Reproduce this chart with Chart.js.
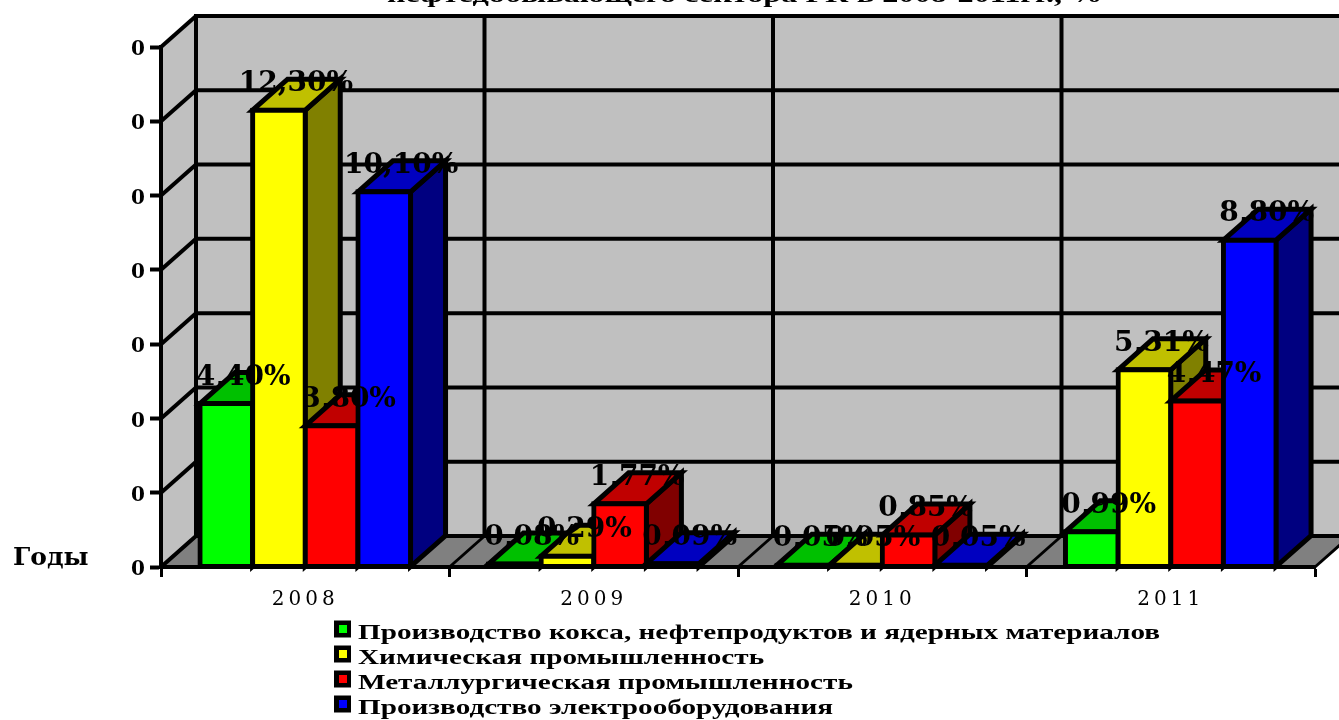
<!DOCTYPE html>
<html><head><meta charset="utf-8">
<style>html,body{margin:0;padding:0;background:#fff;overflow:hidden}canvas{display:block}</style>
<script src="https://cdn.jsdelivr.net/npm/chart.js@4/dist/chart.umd.min.js"></script>
</head><body>
<div style="width:1339px;height:720px"><canvas id="c"></canvas></div>
<script>
const categories = ['2008','2009','2010','2011'];
const cokeValues = [4.4, 0.08, 0.05, 0.95];
const chemValues = [12.3, 0.29, 0.05, 5.31];
const metalValues = [3.8, 1.7, 0.86, 4.47];
const electroValues = [10.1, 0.09, 0.05, 8.8];
const cokeLabels = ['4,40%','0,08%','0,05%','0,99%'];
const chemLabels = ['12,30%','0,29%','0,05%','5,31%'];
const metalLabels = ['3,80%','1,77%','0,85%','4,47%'];
const electroLabels = ['10,10%','0,09%','0,05%','8,80%'];
const seriesNames = ['Производство кокса, нефтепродуктов и ядерных материалов','Химическая промышленность','Металлургическая промышленность','Производство электрооборудования'];
const titleText = 'нефтедобывающего сектора РК в 2008-2011гг., %';
const axisNote = 'Годы';
const yTickLabel = '0';

const DX = 35, DY = -31, BW = 5;
const faces = [
  ['#00ff00','#00c000','#008000'],
  ['#ffff00','#c0c000','#808000'],
  ['#ff0000','#c00000','#800000'],
  ['#0000ff','#0000c0','#000080']
];
const valueSets = [cokeValues, chemValues, metalValues, electroValues];
const labelSets = [cokeLabels, chemLabels, metalLabels, electroLabels];
const SERIF = '"DejaVu Serif"';
const TIMES = '"Liberation Serif"';

function poly(ctx, pts, fill, stroke, lw){
  ctx.beginPath();
  pts.forEach((p,i)=> i?ctx.lineTo(p[0],p[1]):ctx.moveTo(p[0],p[1]));
  ctx.closePath();
  if(fill){ctx.fillStyle=fill;ctx.fill();}
  if(stroke){ctx.strokeStyle=stroke;ctx.lineWidth=lw;ctx.lineJoin='miter';ctx.stroke();}
}
function line(ctx,x1,y1,x2,y2,lw){
  ctx.beginPath();ctx.moveTo(x1,y1);ctx.lineTo(x2,y2);ctx.strokeStyle='#000';ctx.lineWidth=lw;ctx.stroke();
}
function stretched(ctx,text,x,y,font,sx){
  ctx.save();ctx.font=font;ctx.fillStyle='#000';ctx.textAlign='left';ctx.textBaseline='alphabetic';
  ctx.translate(x,y);ctx.scale(sx,1);ctx.fillText(text,0,0);ctx.restore();
}

const walls = {
  id:'walls',
  beforeDraw(chart){
    const {ctx,scales:{x,y},chartArea:a}=chart;
    ctx.save();
    ctx.letterSpacing='0px';
    const t=a.top,b=a.bottom,l=a.left,r=a.right;
    poly(ctx,[[l,b],[l,t],[l+DX,t+DY],[l+DX,b+DY]],'#c0c0c0');
    poly(ctx,[[l+DX,t+DY],[r+DX,t+DY],[r+DX,b+DY],[l+DX,b+DY]],'#c0c0c0');
    poly(ctx,[[l,b],[l+DX,b+DY],[r+DX,b+DY],[r,b]],'#808080');
    y.ticks.forEach(tk=>{
      const py=y.getPixelForValue(tk.value);
      line(ctx,l,py,l+DX,py+DY,4);
      line(ctx,l+DX-2,py+DY,r+DX,py+DY,4);
    });
    const step=x.width/categories.length;
    for(let i=0;i<=categories.length;i++){
      const px=x.getPixelForValue(0)-step/2+i*step;
      line(ctx,px,b,px+DX,b+DY,3);
      line(ctx,px+DX,t+DY,px+DX,b+DY,4);
    }
    ctx.restore();
    stretched(ctx,titleText,387,2,'bold 24px '+TIMES,1.345);
    stretched(ctx,axisNote,13,565,'bold 24px '+SERIF,1.04);
    ctx.letterSpacing='4px';
  },
  beforeDatasetDraw(){ return false; },
  afterDatasetsDraw(chart){
    const ctx=chart.ctx;
    ctx.letterSpacing='0px';
    seriesNames.forEach((n,i)=>{
      const f=faces[i], meta=chart.getDatasetMeta(i);
      ctx.save();
      meta.data.forEach(bar=>{
        const p=bar.getProps(['x','y','width','base'],true);
        const L=p.x-p.width/2,R=p.x+p.width/2,T=p.y,B=p.base;
        poly(ctx,[[R,T],[R+DX,T+DY],[R+DX,B+DY],[R,B]],f[2],'#000',BW);
        poly(ctx,[[L,T],[L+DX,T+DY],[R+DX,T+DY],[R,T]],f[1],'#000',BW);
      });
      ctx.restore();
      meta.controller.draw();
    });
    ctx.save();
    ctx.font='bold 28px '+SERIF;ctx.fillStyle='#000';ctx.textAlign='center';ctx.textBaseline='alphabetic';
    labelSets.forEach((labs,i)=>{
      chart.getDatasetMeta(i).data.forEach((bar,j)=>{
        const p=bar.getProps(['x','y'],true);
        ctx.fillText(labs[j],p.x+17,p.y+DY+12);
      });
    });
    ctx.restore();
    seriesNames.forEach((name,i)=>{
      const cy=629+i*25;
      ctx.fillStyle='#000';ctx.fillRect(334,cy-8.5,17,17);
      ctx.fillStyle=faces[i][0];ctx.fillRect(339,cy-4,8,8);
      stretched(ctx,name,358,cy+10,'bold 21px '+TIMES,1.39);
    });
  }
};

new Chart(document.getElementById('c'),{
  type:'bar',
  data:{labels:categories,datasets:seriesNames.map((n,i)=>({
    label:n,data:valueSets[i],clip:false,
    backgroundColor:c=>c.raw<0.2?'#000':faces[i][0],borderColor:'#000',borderWidth:BW,borderSkipped:false,inflateAmount:BW/2,
    categoryPercentage:0.73,barPercentage:1
  }))},
  plugins:[walls],
  options:{
    responsive:true,maintainAspectRatio:false,animation:false,
    layout:{padding:{left:0,top:47,right:24,bottom:0}},
    plugins:{legend:{display:false},tooltip:{enabled:false}},
    scales:{
      x:{
        afterFit(s){s.height=153;},
        grid:{drawOnChartArea:false,tickLength:10,tickColor:'#000',tickWidth:3,offset:true},
        border:{color:'#000',width:4},
        ticks:{color:'#000',font:{family:'DejaVu Serif',size:20},padding:11,maxRotation:0}
      },
      y:{
        min:0,max:14,
        afterFit(s){s.width=161;},
        grid:{drawOnChartArea:false,tickLength:11,tickColor:'#000',tickWidth:4},
        border:{color:'#000',width:4},
        ticks:{stepSize:2,color:'#000',font:{family:'DejaVu Serif',size:20,weight:'bold'},padding:1,labelOffset:3,callback:()=>yTickLabel}
      }
    }
  }
});
</script>
</body></html>
